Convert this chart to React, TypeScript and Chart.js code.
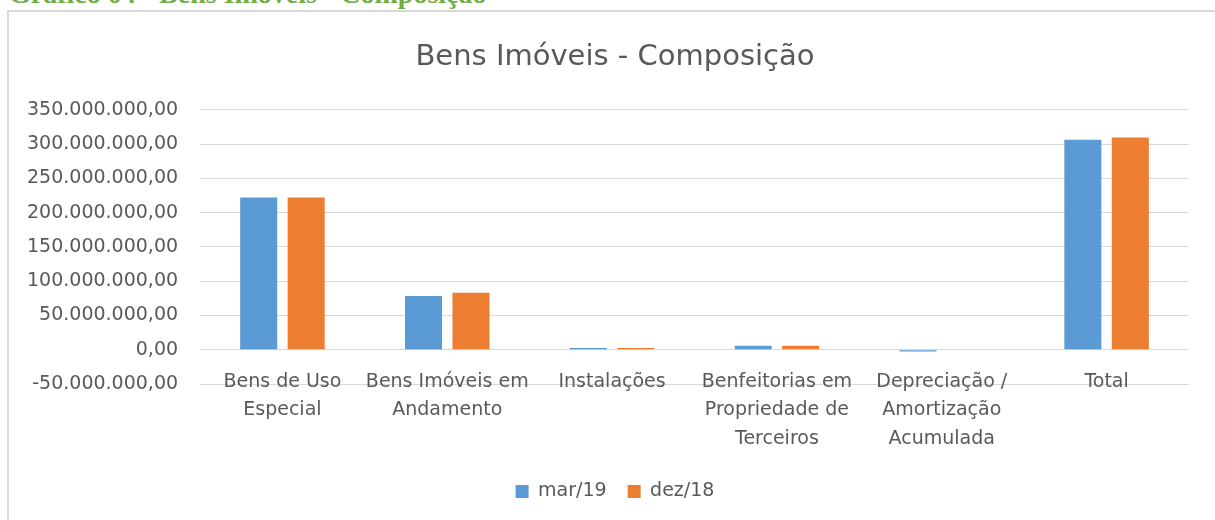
import React, { useEffect, useRef } from "react";
import { Chart, registerables } from "chart.js";

Chart.register(...registerables);

const categories: (string | string[])[] = [
  ["Bens de Uso", "Especial"],
  ["Bens Imóveis em", "Andamento"],
  "Instalações",
  ["Benfeitorias em", "Propriedade de", "Terceiros"],
  ["Depreciação /", "Amortização", "Acumulada"],
  "Total",
];

const seriesNames = ["mar/19", "dez/18"];
const mar19 = [222000000, 78500000, 2500000, 5800000, -2500000, 306300000];
const dez18 = [222000000, 83000000, 2500000, 5800000, 0, 309700000];
const seriesColors = ["#5B9BD5", "#ED7D31"];

const yMin = -50000000;
const yMax = 350000000;
const yStep = 50000000;

const chartTitle = "Bens Imóveis - Composição";
const pageHeading = "Gráfico 04 - Bens Imóveis - Composição";

function formatBR(v: number): string {
  const neg = v < 0;
  const abs = Math.abs(Math.round(v));
  const s = String(abs).replace(/\B(?=(\d{3})+(?!\d))/g, ".");
  return (neg ? "-" : "") + s + ",00";
}

const FONT = "'DejaVu Sans', 'Open Sans', sans-serif";
const TEXT = "#595959";

export default function App() {
  const ref = useRef<HTMLCanvasElement | null>(null);

  useEffect(() => {
    if (!ref.current) return;
    const chart = new Chart(ref.current, {
      type: "bar",
      data: {
        labels: categories,
        datasets: [
          {
            label: seriesNames[0],
            data: mar19,
            backgroundColor: seriesColors[0],
            categoryPercentage: 0.576,
            barPercentage: 0.78,
          },
          {
            label: seriesNames[1],
            data: dez18,
            backgroundColor: seriesColors[1],
            categoryPercentage: 0.576,
            barPercentage: 0.78,
          },
        ],
      },
      options: {
        responsive: false,
        animation: false,
        devicePixelRatio: 1,
        layout: { padding: { left: 41, right: 26, top: 40, bottom: 9 } },
        plugins: {
          title: {
            display: true,
            text: chartTitle,
            color: TEXT,
            font: { family: FONT, size: 29, weight: "normal" },
            padding: { top: 0, bottom: 35 },
          },
          legend: {
            position: "bottom",
            labels: {
              color: TEXT,
              font: { family: FONT, size: 19 },
              boxWidth: 13,
              boxHeight: 13,
              padding: 21,
            },
          },
          tooltip: { enabled: false },
        },
        scales: {
          x: {
            grid: { display: false, drawTicks: false },
            border: { display: false },
            ticks: {
              color: TEXT,
              font: { family: FONT, size: 19, lineHeight: 1.5 },
              mirror: true,
              padding: -12,
              maxRotation: 0,
              autoSkip: false,
            },
            afterFit: (scale: any) => {
              scale.height = 77;
            },
          },
          y: {
            min: yMin,
            max: yMax,
            grid: { color: "#d9d9d9", drawTicks: false, lineWidth: 1 },
            border: { display: false },
            ticks: {
              stepSize: yStep,
              color: TEXT,
              font: { family: FONT, size: 19 },
              mirror: true,
              crossAlign: "far",
              padding: -173,
              callback: (v: any) => formatBR(Number(v)),
            },
            afterFit: (scale: any) => {
              scale.width = 159;
            },
          },
        },
      },
    });
    return () => chart.destroy();
  }, []);

  return (
    <div
      style={{
        position: "fixed",
        left: 0,
        top: 0,
        width: 1215,
        height: 520,
        overflow: "hidden",
        background: "#fff",
      }}
    >
      <div
        style={{
          position: "absolute",
          left: 9,
          top: -20,
          fontFamily: "'Liberation Serif', 'Times New Roman', serif",
          fontWeight: "bold",
          fontSize: 28,
          color: "#70AD47",
          whiteSpace: "nowrap",
          lineHeight: "28px",
        }}
      >
        {pageHeading}
      </div>
      <div
        style={{
          position: "absolute",
          left: 7,
          top: 10,
          width: 1400,
          height: 700,
          borderTop: "2px solid #d9d9d9",
          borderLeft: "2px solid #d9d9d9",
          boxSizing: "border-box",
        }}
      />
      <canvas
        ref={ref}
        width={1215}
        height={520}
        style={{ position: "absolute", left: 0, top: 0, width: 1215, height: 520 }}
      />
    </div>
  );
}
